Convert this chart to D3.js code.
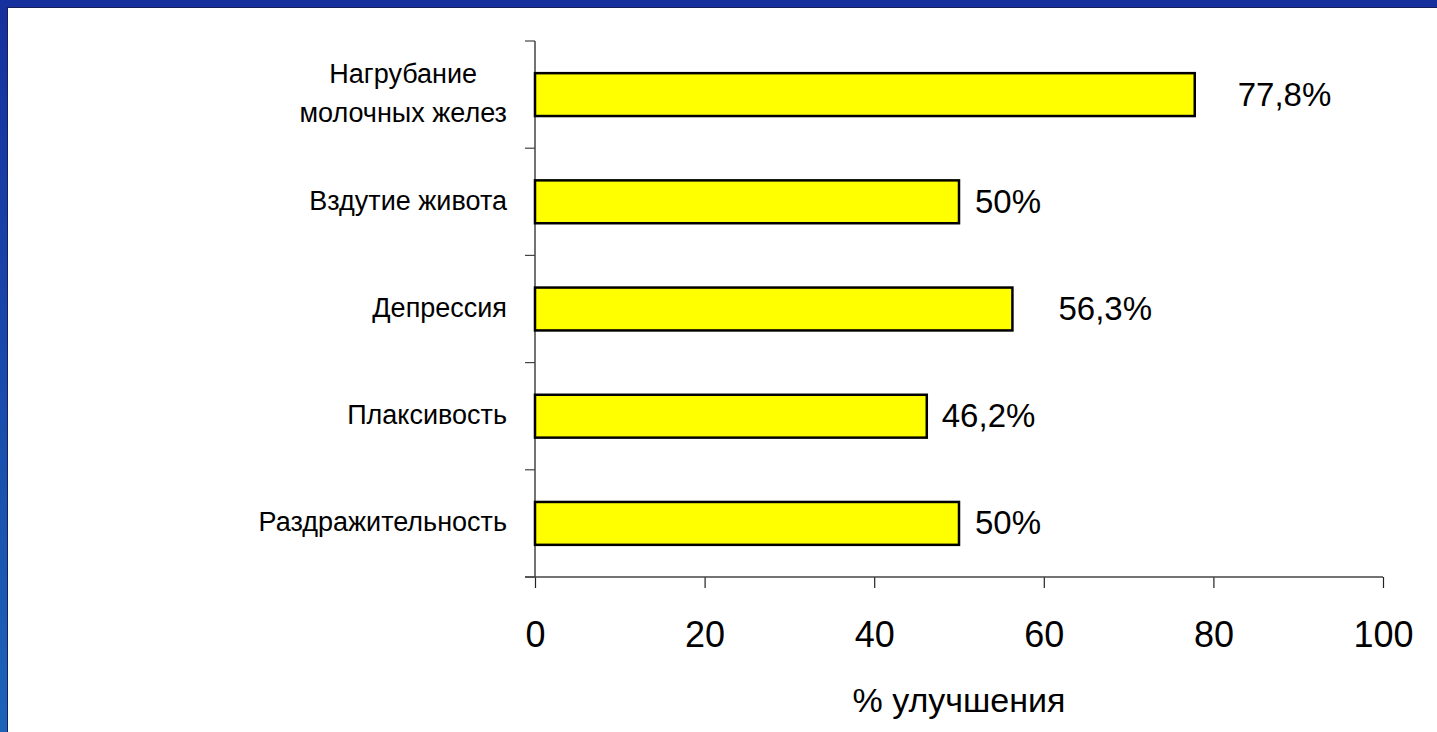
<!DOCTYPE html>
<html>
<head>
<meta charset="utf-8">
<script src="https://cdn.jsdelivr.net/npm/d3@7"></script>
<style>
  html, body { margin: 0; padding: 0; background: #fff; }
  svg { display: block; font-family: "Liberation Sans", Arial, sans-serif; }
</style>
</head>
<body>
<div id="chart"></div>
<script>
// data
var categories = [["Нагрубание", "молочных желез"], ["Вздутие живота"], ["Депрессия"], ["Плаксивость"], ["Раздражительность"]];
var values = [77.8, 50, 56.3, 46.2, 50];
var xTicks = [0, 20, 40, 60, 80, 100];
var xTitle = "% улучшения";
// hand-placed value labels (gap from bar end)
var labelGap = [43, 16, 46, 15, 16];

var width = 1437, height = 732;
var x0 = 535, x1 = 1383, yTop = 41, yBot = 577;

var svg = d3.select("#chart").append("svg")
    .attr("width", width)
    .attr("height", height);

// slide frame
var grad = svg.append("defs").append("linearGradient")
    .attr("id", "side").attr("x1", 0).attr("y1", 0).attr("x2", 0).attr("y2", 1);
grad.append("stop").attr("offset", "0%").attr("stop-color", "#16309e");
grad.append("stop").attr("offset", "100%").attr("stop-color", "#1c63b8");
svg.append("rect").attr("x", 0).attr("y", 0).attr("width", width).attr("height", 7).attr("fill", "#16309e");
svg.append("rect").attr("x", 0).attr("y", 0).attr("width", 7).attr("height", height).attr("fill", "url(#side)");
svg.append("line").attr("x1", 7).attr("x2", width).attr("y1", 7.5).attr("y2", 7.5).attr("stroke", "#15205a").attr("stroke-width", 1);
svg.append("line").attr("x1", 7.5).attr("x2", 7.5).attr("y1", 7).attr("y2", height).attr("stroke", "#15205a").attr("stroke-width", 1);

var x = d3.scaleLinear().domain([0, 100]).range([x0, x1]);
var y = d3.scaleBand().domain(d3.range(categories.length)).range([yTop, yBot])
    .paddingInner(0.6).paddingOuter(0.3);

// x axis
var xAxis = svg.append("g")
    .attr("transform", "translate(0," + yBot + ")")
    .call(d3.axisBottom(x).tickValues(xTicks).tickSize(11).tickSizeOuter(0).tickFormat(d3.format("d")));
xAxis.select(".domain").remove();
xAxis.append("line").attr("x1", x0 - 10).attr("x2", x1).attr("y1", 0).attr("y2", 0)
    .attr("stroke", "#444").attr("stroke-width", 1.5);
xAxis.selectAll(".tick line").attr("stroke", "#222").attr("stroke-width", 1.2);
xAxis.selectAll(".tick text")
    .attr("y", 70).attr("dy", null)
    .attr("fill", "#000").style("font-size", "36px")
    .style("font-family", "'Liberation Sans', Arial, sans-serif");

// y axis
var g = svg.append("g");
g.append("line").attr("x1", x0).attr("x2", x0).attr("y1", yTop).attr("y2", yBot)
    .attr("stroke", "#444").attr("stroke-width", 1.5);
g.selectAll(".ytick").data(d3.range(categories.length + 1)).enter().append("line")
    .attr("x1", x0 - 10).attr("x2", x0)
    .attr("y1", function(i) { return yTop + i * y.step(); })
    .attr("y2", function(i) { return yTop + i * y.step(); })
    .attr("stroke", "#444").attr("stroke-width", 1.2);

// bars
svg.selectAll(".bar").data(values).enter().append("rect")
    .attr("x", x(0))
    .attr("y", function(d, i) { return y(i); })
    .attr("width", function(d) { return x(d) - x(0); })
    .attr("height", y.bandwidth())
    .attr("fill", "#ffff00")
    .attr("stroke", "#000")
    .attr("stroke-width", 2.5);

// value labels
svg.selectAll(".val").data(values).enter().append("text")
    .attr("x", function(d, i) { return x(d) + labelGap[i]; })
    .attr("y", function(d, i) { return y(i) + y.bandwidth() / 2 + 11; })
    .style("font-size", "33px")
    .attr("fill", "#000")
    .text(function(d) { return String(d).replace(".", ",") + "%"; });

// category labels
var labelRight = 507;
categories.forEach(function(lines, i) {
    var cy = y(i) + y.bandwidth() / 2;
    var t = svg.append("text").style("font-size", "27px").attr("fill", "#000");
    if (lines.length === 1) {
        t.attr("x", labelRight).attr("y", cy + 8).attr("text-anchor", "end").text(lines[0]);
    } else {
        var spans = t.selectAll("tspan").data(lines).enter().append("tspan").text(function(d) { return d; });
        var w = d3.max(spans.nodes(), function(n) { return n.getComputedTextLength(); });
        var cx = labelRight - w / 2;
        t.attr("text-anchor", "middle");
        spans.attr("x", cx).attr("y", function(d, j) { return cy + 8 + (j - (lines.length - 1) / 2) * 39; });
    }
});

// axis title
svg.append("text")
    .attr("x", (x0 + x1) / 2)
    .attr("y", 712)
    .attr("text-anchor", "middle")
    .style("font-size", "34px")
    .attr("fill", "#000")
    .text(xTitle);
</script>
</body>
</html>
